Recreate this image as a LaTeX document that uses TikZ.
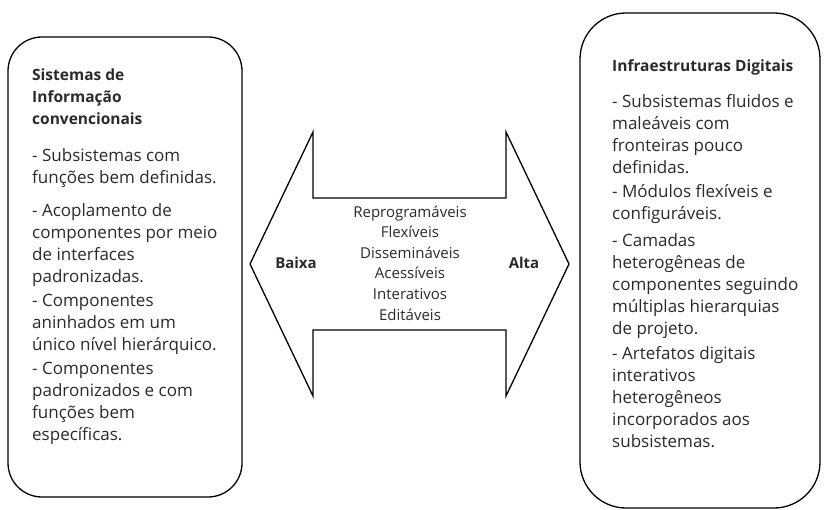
\documentclass[tikz,border=0pt]{standalone}
\usepackage{fontspec}
\setmainfont{Open Sans}
\definecolor{txt}{HTML}{2A2A2A}
\newcommand{\ttlfont}{\fontsize{15.5}{22}\selectfont\bfseries}
\begin{document}
\begin{tikzpicture}[x=1pt,y=-1pt,
  box/.style={draw=black, line width=1.3pt},
  body/.style={anchor=north west, align=left, text=txt, inner sep=0pt,
    font=\fontsize{17}{22}\selectfont},
  mid/.style={align=center, text=txt, inner sep=0pt,
    font=\fontsize{15}{20.6}\selectfont},
  side/.style={text=txt, inner sep=0pt, font=\fontsize{15}{17}\selectfont\bfseries}]
\useasboundingbox (0,0) rectangle (824,510);
\draw[box, rounded corners=34pt] (8,37) rectangle (242,497);
\draw[box, rounded corners=46pt] (580,13) rectangle (820,508);
\draw[box, line join=miter] (250,264) -- (313,132) -- (313,198) -- (506,198) -- (506,132)
  -- (569,264) -- (506,396) -- (506,330) -- (313,330) -- (313,396) -- cycle;
\node[body] (lt) at (32,69) {{\ttlfont Sistemas de}\\{\ttlfont Informação}\\{\ttlfont convencionais}\\[15pt]
- Subsistemas com\\funções bem definidas.\\[11pt]
- Acoplamento de\\componentes por meio\\de interfaces\\padronizadas.\\[2pt]
- Componentes\\aninhados em um\\único nível hierárquico.\\[2pt]
- Componentes\\padronizados e com\\funções bem\\específicas.};
\node[body] (rt) at (612,59) {{\ttlfont Infraestruturas Digitais}\\[14pt]
- Subsistemas fluidos e\\maleáveis com\\fronteiras pouco\\definidas.\\[2pt]
- Módulos flexíveis e\\configuráveis.\\[5pt]
- Camadas\\heterogêneas de\\componentes seguindo\\múltiplas hierarquias\\de projeto.\\[3pt]
- Artefatos digitais\\interativos\\heterogêneos\\incorporados aos\\subsistemas.};
\node[mid] (m) at (410,263) {Reprogramáveis\\Flexíveis\\Dissemináveis\\Acessíveis\\Interativos\\Editáveis};
\node[side] (lo) at (296,263) {Baixa};
\node[side] (hi) at (524,263) {Alta};
\end{tikzpicture}
\end{document}
